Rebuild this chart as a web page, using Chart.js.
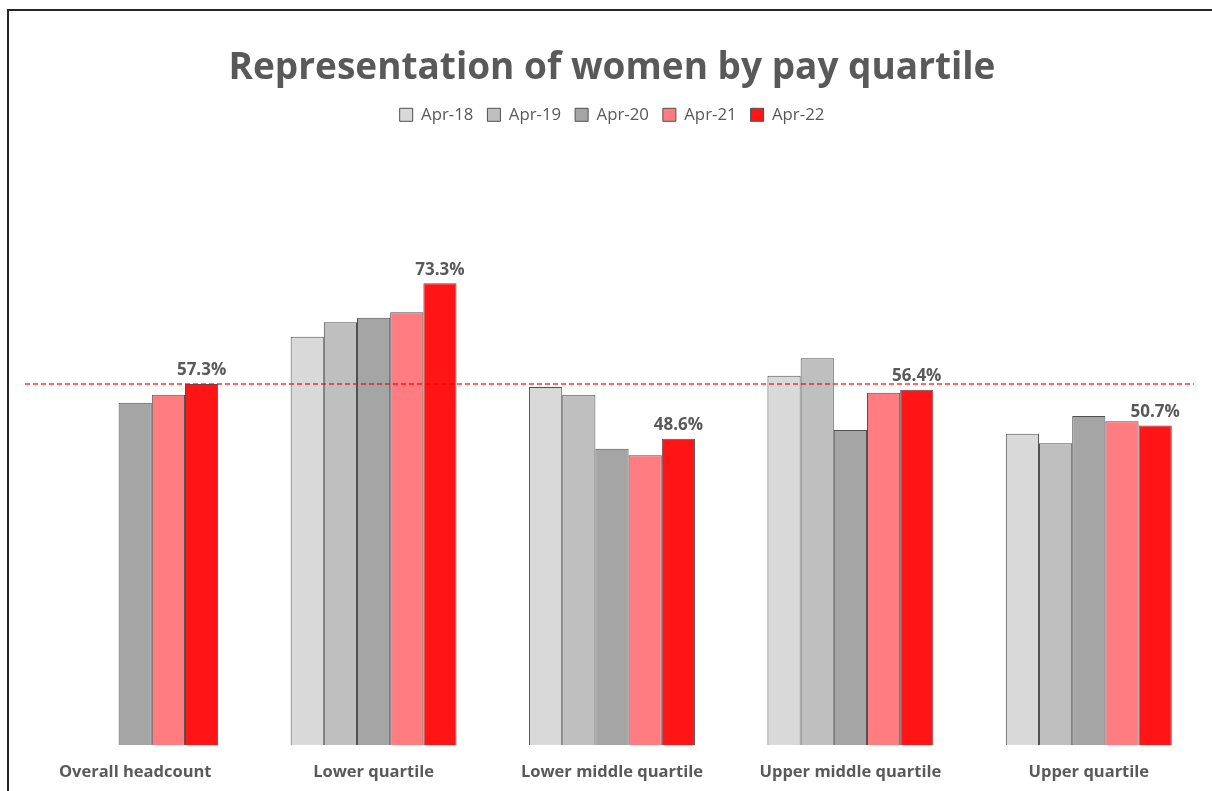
<!DOCTYPE html>
<html>
<head>
<meta charset="utf-8">
<script src="https://cdn.jsdelivr.net/npm/chart.js@4/dist/chart.umd.min.js"></script>
<style>
  html, body { margin: 0; padding: 0; background: #fff; }
  #wrap { position: relative; width: 1212px; height: 791px; }
  #frame { position: absolute; left: 7px; top: 9px; right: -5px; bottom: -5px; border-left: 2px solid #262626; border-top: 2px solid #262626; pointer-events: none; }
</style>
</head>
<body>
<div id="wrap">
  <canvas id="myChart" width="1212" height="791"></canvas>
  <div id="frame"></div>
</div>
<script>
// categories along the x axis
const categories = ['Overall headcount', 'Lower quartile', 'Lower middle quartile', 'Upper middle quartile', 'Upper quartile'];
// series (one per snapshot date)
const seriesNames = ['Apr-18', 'Apr-19', 'Apr-20', 'Apr-21', 'Apr-22'];
const apr18 = [null, 64.8, 56.8, 58.6, 49.4];
const apr19 = [null, 67.1, 55.6, 61.4, 47.9];
const apr20 = [54.3, 67.8, 47.0, 50.0, 52.2];
const apr21 = [55.6, 68.7, 46.0, 55.9, 51.4];
const apr22 = [57.3, 73.3, 48.6, 56.4, 50.7];
// reference line = overall headcount Apr-22
const refLine = 57.3;

const colors = ['#d9d9d9', '#bfbfbf', '#a5a5a5', '#ff7c80', '#ff1515'];
const allSeries = [apr18, apr19, apr20, apr21, apr22];

// labels over the latest series + dashed reference line
const extras = {
    id: 'extras',
    afterDatasetsDraw(chart) {
        const ctx = chart.ctx;
        const y = chart.scales.y;
        const area = chart.chartArea;
        const yy = y.getPixelForValue(refLine);
        ctx.save();
        ctx.strokeStyle = 'rgba(255,0,0,0.8)';
        ctx.lineWidth = 1.5;
        ctx.setLineDash([5, 3]);
        ctx.beginPath();
        ctx.moveTo(area.left + 9, yy);
        ctx.lineTo(area.right - 14, yy);
        ctx.stroke();
        ctx.setLineDash([]);

        const meta = chart.getDatasetMeta(4);
        ctx.fillStyle = '#595959';
        ctx.font = 'bold 17px "Open Sans"';
        ctx.textAlign = 'center';
        ctx.textBaseline = 'bottom';
        meta.data.forEach((bar, i) => {
            ctx.fillText(apr22[i].toFixed(1) + '%', bar.x, bar.y - 5);
        });
        ctx.restore();
    }
};

const ctx = document.getElementById('myChart').getContext('2d');
new Chart(ctx, {
    type: 'bar',
    data: {
        labels: categories,
        datasets: seriesNames.map((name, i) => ({
            label: name,
            data: allSeries[i],
            backgroundColor: colors[i],
            borderColor: '#505050',
            borderWidth: 1,
            borderSkipped: 'bottom'
        }))
    },
    options: {
        responsive: false,
        animation: false,
        layout: { padding: { left: 16, right: 4, top: 46, bottom: 9 } },
        categoryPercentage: 0.696,
        barPercentage: 1,
        plugins: {
            title: {
                display: true,
                text: 'Representation of women by pay quartile',
                color: '#595959',
                font: { family: 'Open Sans', size: 37, weight: 'bold' },
                padding: { top: 0, bottom: 2 }
            },
            legend: {
                position: 'top',
                labels: {
                    color: '#595959',
                    font: { family: 'Open Sans', size: 16.8 },
                    boxWidth: 13,
                    boxHeight: 13,
                    padding: 14
                }
            },
            tooltip: { enabled: false }
        },
        scales: {
            x: {
                grid: { display: false },
                border: { display: false },
                afterFit(scale) { scale.height = 37; },
                ticks: {
                    color: '#595959',
                    font: { family: 'Open Sans', size: 16.5, weight: 'bold' },
                    padding: 9
                }
            },
            y: {
                display: false,
                min: 0,
                max: 97.1
            }
        }
    },
    plugins: [extras]
});
</script>
</body>
</html>
